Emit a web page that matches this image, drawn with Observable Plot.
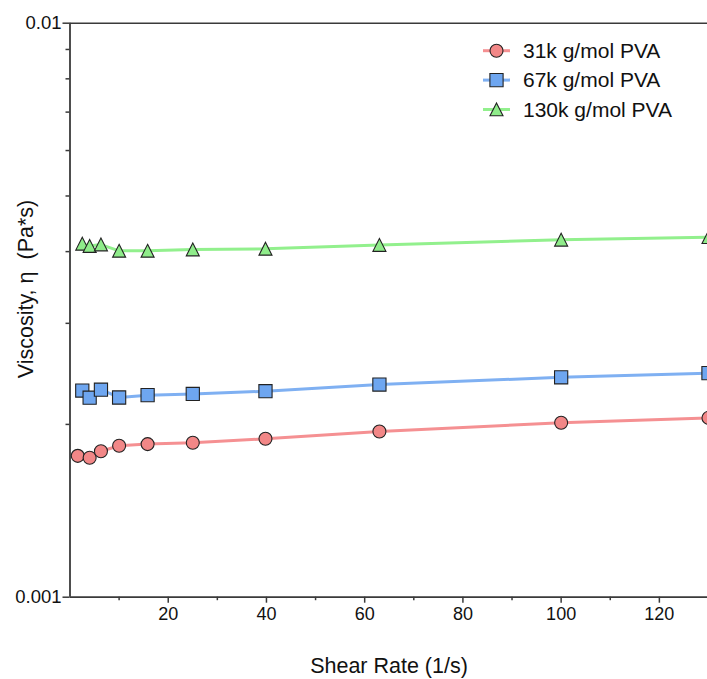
<!DOCTYPE html>
<html><head><meta charset="utf-8">
<script src="https://cdn.jsdelivr.net/npm/d3@7"></script>
<script src="https://cdn.jsdelivr.net/npm/@observablehq/plot@0.6"></script>
<style>
html,body{margin:0;padding:0;background:#fff;}
#chart{width:707px;height:679px;overflow:hidden;}
</style></head><body><div id="chart"></div>
<script>
const seriesNames = ["31k g/mol PVA", "67k g/mol PVA", "130k g/mol PVA"];
const shearRate31k = [1.58, 4, 6.3, 10, 15.8, 25, 39.8, 63, 100, 130];
const viscosity31k = [0.001763, 0.001750, 0.001796, 0.001836, 0.001848, 0.001858, 0.001888, 0.001944, 0.002013, 0.002053];
const shearRate67k = [2.5, 4, 6.3, 10, 15.8, 25, 39.8, 63, 100, 130];
const viscosity67k = [0.002291, 0.002226, 0.002299, 0.002228, 0.002249, 0.002260, 0.002285, 0.002347, 0.002416, 0.002457];
const shearRate130k = [2.5, 4, 6.3, 10, 15.8, 25, 39.8, 63, 100, 130];
const viscosity130k = [0.004127, 0.004090, 0.004115, 0.004012, 0.004012, 0.004033, 0.004045, 0.004107, 0.004194, 0.004238];
const xMajorTicks = [20, 40, 60, 80, 100, 120];
const xMinorTicks = [10, 30, 50, 70, 90, 110];
const yMajorTicks = [0.001, 0.01];
const yMajorLabels = ["0.001", "0.01"];
const yMinorTicks = [0.002, 0.003, 0.004, 0.005, 0.006, 0.007, 0.008, 0.009];
const xTitle = "Shear Rate (1/s)";
const yTitle = "Viscosity, \u03b7  (Pa*s)";

const fills = ["#f28787", "#6ea6f0", "#8fec8a"];
const lineColors = ["#f59092", "#7fb0f2", "#92f08d"];
const circleSym = {draw(ctx) { ctx.moveTo(6.5, 0); ctx.arc(0, 0, 6.5, 0, 2 * Math.PI); }};
const squareSym = {draw(ctx) { ctx.rect(-6.6, -6.6, 13.2, 13.2); }};
const triSym = {draw(ctx) { ctx.moveTo(0, -6.5); ctx.lineTo(6.5, 6.3); ctx.lineTo(-6.5, 6.3); ctx.closePath(); }};
const symbols = [circleSym, squareSym, triSym];

const seriesData = [[shearRate31k, viscosity31k], [shearRate67k, viscosity67k], [shearRate130k, viscosity130k]]
  .map(([xs, ys], i) => xs.map((x, j) => ({series: seriesNames[i], x, y: ys[j]})));

const font = "'Liberation Sans', Arial, Helvetica, sans-serif";
const axisColor = "#3a3a3a";

const plot = Plot.plot({
  width: 707, height: 679,
  marginLeft: 69.5, marginRight: 0, marginTop: 22.7, marginBottom: 82.3,
  style: {fontFamily: font, fontSize: "18px", color: "#111", background: "#fff"},
  x: {domain: [0, 129.8]},
  y: {type: "log", domain: [0.001, 0.01]},
  marks: [
    ...seriesData.map((d, i) => Plot.line(d, {x: "x", y: "y", stroke: lineColors[i], strokeWidth: 3})),
    Plot.ruleY([0.01], {stroke: axisColor, strokeWidth: 1.6}),
    Plot.axisX({ticks: xMinorTicks, tickSize: 3.5, tickFormat: () => "", label: null, stroke: axisColor, strokeWidth: 1.5}),
    Plot.axisX({ticks: xMajorTicks, tickSize: 6, tickPadding: 4, tickFormat: d => String(d), label: null, stroke: axisColor, strokeWidth: 1.5, fontSize: 18, fill: "#111"}),
    Plot.axisY({ticks: yMinorTicks, tickSize: 4, tickFormat: () => "", label: null, stroke: axisColor, strokeWidth: 1.5}),
    Plot.axisY({ticks: yMajorTicks, tickSize: 7, tickPadding: 1.5, tickFormat: d => yMajorLabels[yMajorTicks.indexOf(d)], label: null, stroke: axisColor, strokeWidth: 1.5, fontSize: 18.5, fill: "#111"}),
    Plot.ruleX([0], {stroke: axisColor, strokeWidth: 1.8}),
    Plot.ruleY([0.001], {stroke: axisColor, strokeWidth: 1.8}),
    ...seriesData.map((d, i) => Plot.dot(d, {x: "x", y: "y", symbol: symbols[i], r: 6, fill: fills[i], stroke: "#222", strokeWidth: 1.1}))
  ]
});

const svg = d3.select(plot);
svg.append("text")
  .attr("x", 389).attr("y", 673).attr("text-anchor", "middle")
  .attr("font-family", font).attr("font-size", 21.5).attr("fill", "#111")
  .text(xTitle);
svg.append("text")
  .attr("transform", "translate(33,289) rotate(-90)").attr("text-anchor", "middle")
  .attr("font-family", font).attr("font-size", 21.5).attr("fill", "#111")
  .style("white-space", "pre")
  .text(yTitle);

const legend = svg.append("g");
seriesNames.forEach((name, i) => {
  const cy = 50.7 + i * 29.4;
  legend.append("line").attr("x1", 483).attr("x2", 510).attr("y1", cy).attr("y2", cy)
    .attr("stroke", lineColors[i]).attr("stroke-width", 3);
  const p = d3.path(); symbols[i].draw(p);
  legend.append("path").attr("d", p.toString()).attr("transform", `translate(496.5,${cy})`)
    .attr("fill", fills[i]).attr("stroke", "#222").attr("stroke-width", 1.1);
  legend.append("text").attr("x", 523).attr("y", cy + 7.2).attr("text-anchor", "start")
    .attr("font-family", font).attr("font-size", 21).attr("fill", "#111")
    .text(name);
});

document.getElementById("chart").appendChild(plot);
</script>
</body></html>
